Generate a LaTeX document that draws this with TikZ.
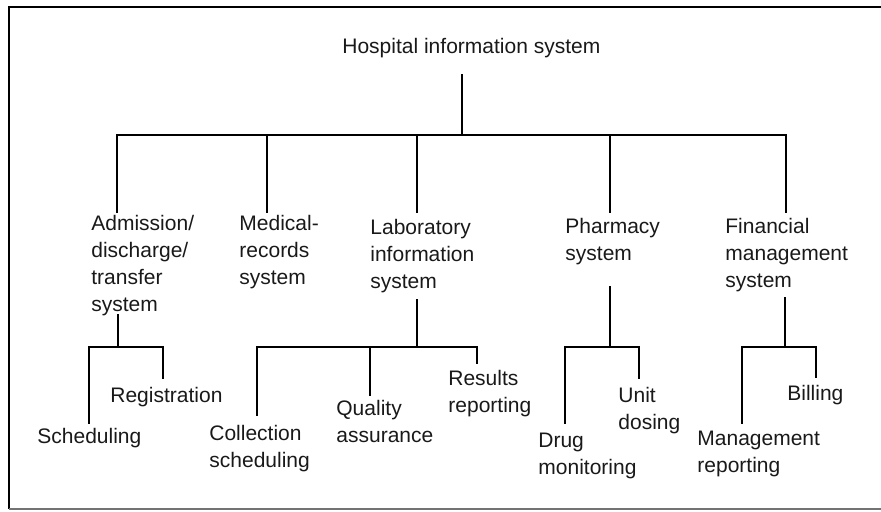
\documentclass[tikz,border=0pt]{standalone}
\usepackage{fontspec}
\setmainfont{Liberation Sans}
\usetikzlibrary{calc}
% base anchor sits on the last line of a multi-line node
\tikzset{
  txt/.style={anchor=base west, inner sep=0pt, align=left, text=black!90,
    font=\fontsize{10.5}{13.5}\selectfont},
  link/.style={line width=1.4pt, line cap=rect},
}
\begin{document}
\begin{tikzpicture}[x=0.5pt,y=-0.5pt]
    \useasboundingbox (0,0) rectangle (881,511);
    % frame (no right side)
    \draw[line width=1.3pt] (881,7) -- (9,7) -- (9,509);
    \draw[line width=1.3pt, black!55] (9,509) -- (881,509);

    \node[txt] (his) at (342,53) {Hospital information system};

    \node[txt] (adt) at (91,311) {Admission/\\discharge/\\transfer\\system};
    \node[txt] (mrs) at (239,284) {Medical-\\records\\system};
    \node[txt] (lis) at (370,288) {Laboratory\\information\\system};
    \node[txt] (phs) at (565,260) {Pharmacy\\system};
    \node[txt] (fms) at (725,287) {Financial\\management\\system};

    \node[txt] (reg) at (110,402) {Registration};
    \node[txt] (sch) at (37,443) {Scheduling};
    \node[txt] (col) at (209,467) {Collection\\scheduling};
    \node[txt] (qua) at (336,442) {Quality\\assurance};
    \node[txt] (res) at (448,412) {Results\\reporting};
    \node[txt] (uni) at (618,429) {Unit\\dosing};
    \node[txt] (dru) at (538,474) {Drug\\monitoring};
    \node[txt] (bil) at (787,400) {Billing};
    \node[txt] (man) at (697,472) {Management\\reporting};

    % first level
    \coordinate (his-b) at (462,75);
    \coordinate (hub) at (462,135);
    \coordinate (adt-t) at (117,212);
    \coordinate (mrs-t) at (267,212);
    \coordinate (lis-t) at (417,212);
    \coordinate (phs-t) at (610,212);
    \coordinate (fms-t) at (786,212);
    \draw[link] (his-b) -- (hub);
    \draw[link] (adt-t) -- (adt-t |- hub) -| (fms-t);
    \draw[link] (mrs-t) -- (mrs-t |- hub);
    \draw[link] (lis-t) -- (lis-t |- hub);
    \draw[link] (phs-t) -- (phs-t |- hub);

    % admission/discharge/transfer
    \coordinate (adt-b) at (118,315);
    \coordinate (adt-j) at (118,347);
    \coordinate (sch-t) at (89,423);
    \coordinate (reg-t) at (163,378);
    \draw[link] (adt-b) -- (adt-j);
    \draw[link] (sch-t) -- (sch-t |- adt-j) -| (reg-t);

    % laboratory
    \coordinate (lis-b) at (417,300);
    \coordinate (lis-j) at (417,347);
    \coordinate (col-t) at (257,415);
    \coordinate (qua-t) at (370,395);
    \coordinate (res-t) at (477,363);
    \draw[link] (lis-b) -- (lis-j);
    \draw[link] (col-t) -- (col-t |- lis-j) -| (res-t);
    \draw[link] (qua-t) -- (qua-t |- lis-j);

    % pharmacy
    \coordinate (phs-b) at (610,287);
    \coordinate (phs-j) at (610,347);
    \coordinate (dru-t) at (565,423);
    \coordinate (uni-t) at (639,378);
    \draw[link] (phs-b) -- (phs-j);
    \draw[link] (dru-t) -- (dru-t |- phs-j) -| (uni-t);

    % financial management
    \coordinate (fms-b) at (785,298);
    \coordinate (fms-j) at (785,347);
    \coordinate (man-t) at (742,423);
    \coordinate (bil-t) at (816,377);
    \draw[link] (fms-b) -- (fms-j);
    \draw[link] (man-t) -- (man-t |- fms-j) -| (bil-t);
\end{tikzpicture}
\end{document}
